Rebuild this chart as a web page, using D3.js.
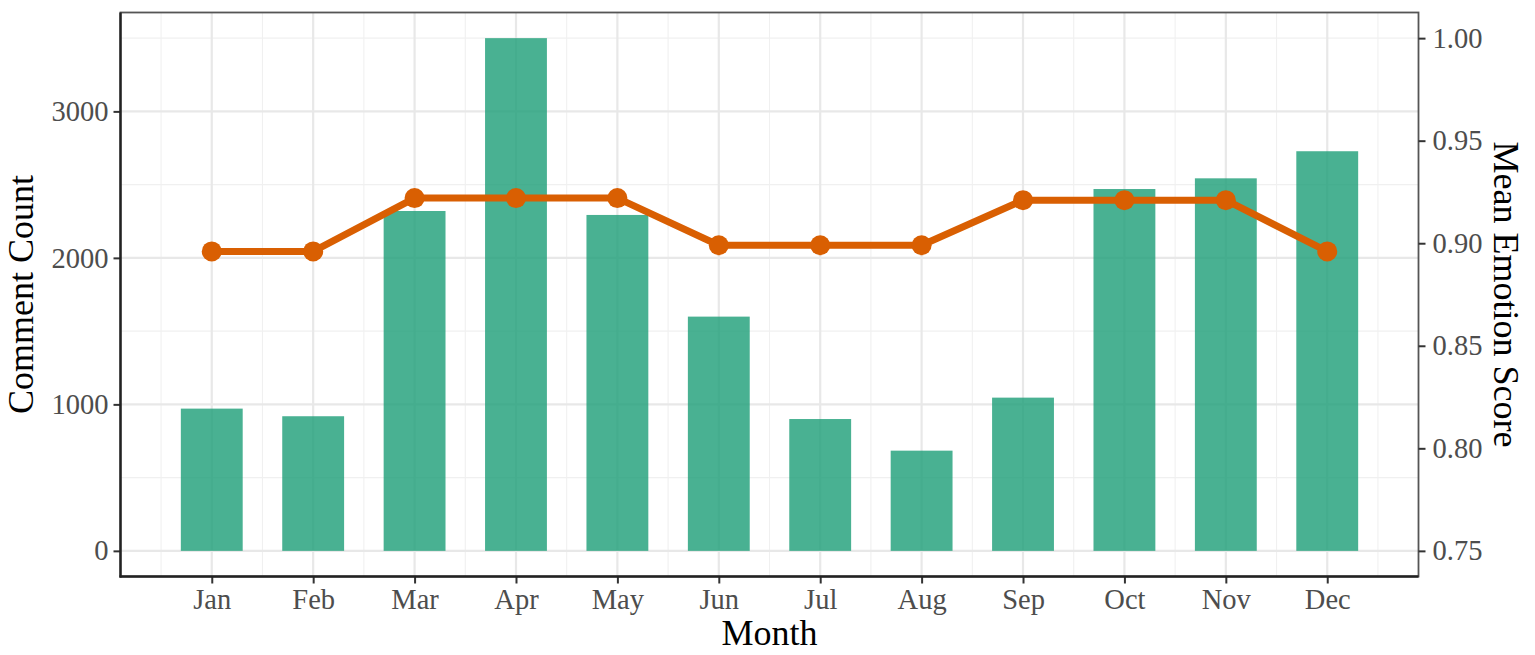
<!DOCTYPE html>
<html>
<head>
<meta charset="utf-8">
<script src="https://cdn.jsdelivr.net/npm/d3@7"></script>
<style>
  html, body { margin: 0; padding: 0; background: #fff; }
  svg { display: block; }
</style>
</head>
<body>
<svg id="chart" width="1535" height="655"></svg>
<script>
const months = ["Jan","Feb","Mar","Apr","May","Jun","Jul","Aug","Sep","Oct","Nov","Dec"];
const commentCount = [971, 919, 2320, 3500, 2293, 1599, 900, 684, 1046, 2470, 2543, 2728];
const meanEmotion = [0.896, 0.896, 0.922, 0.922, 0.922, 0.899, 0.899, 0.899, 0.921, 0.921, 0.921, 0.896];
const countTicks = [0, 1000, 2000, 3000];
const countMinor = [500, 1500, 2500, 3500];
const emotionTicks = [0.75, 0.80, 0.85, 0.90, 0.95, 1.00];

const svg = d3.select("#chart");
const L = 120.5, R = 1418.5, T = 12.5, B = 576.5;
const FONT = "'Liberation Serif', 'Times New Roman', serif";

// secondary axis transform: emotion = 0.75 + count / 14000
const toEmotion = c => 0.75 + c / 14000;

const x = d3.scaleLinear().domain([0.1, 12.9]).range([L, R]);
const y = d3.scaleLinear().domain([-175, 3675]).range([B, T]);
const y2 = d3.scaleLinear().domain([toEmotion(-175), toEmotion(3675)]).range([B, T]);

const idx = months.map((m, i) => i + 1);
const minorX = d3.range(0, 13).map(i => i + 0.5);

// grid
const grid = svg.append("g");
grid.selectAll(".mx").data(minorX).join("line")
  .attr("x1", d => x(d)).attr("x2", d => x(d)).attr("y1", T).attr("y2", B)
  .attr("stroke", "#f0f0f0").attr("stroke-width", 1.1);
grid.selectAll(".my").data(countMinor).join("line")
  .attr("x1", L).attr("x2", R).attr("y1", d => y(d)).attr("y2", d => y(d))
  .attr("stroke", "#f0f0f0").attr("stroke-width", 1.1);
grid.selectAll(".Mx").data(idx).join("line")
  .attr("x1", d => x(d)).attr("x2", d => x(d)).attr("y1", T).attr("y2", B)
  .attr("stroke", "#e8e8e8").attr("stroke-width", 2.2);
grid.selectAll(".My").data(countTicks).join("line")
  .attr("x1", L).attr("x2", R).attr("y1", d => y(d)).attr("y2", d => y(d))
  .attr("stroke", "#e8e8e8").attr("stroke-width", 2.2);

// bars
const bw = (x(1.61) - x(1));
svg.append("g").selectAll("rect").data(commentCount).join("rect")
  .attr("x", (d, i) => x(i + 1) - bw / 2)
  .attr("width", bw)
  .attr("y", d => y(d))
  .attr("height", d => y(0) - y(d))
  .attr("fill", "#1b9e77")
  .attr("fill-opacity", 0.8);

// line
const line = d3.line().x((d, i) => x(i + 1)).y(d => y2(d));
svg.append("path").datum(meanEmotion)
  .attr("d", line)
  .attr("fill", "none")
  .attr("stroke", "#d95f02")
  .attr("stroke-width", 7)
  .attr("stroke-linejoin", "round");
svg.append("g").selectAll("circle").data(meanEmotion).join("circle")
  .attr("cx", (d, i) => x(i + 1))
  .attr("cy", d => y2(d))
  .attr("r", 10)
  .attr("fill", "#d95f02");

// panel border
svg.append("rect").attr("x", L).attr("y", T).attr("width", R - L).attr("height", B - T)
  .attr("fill", "none").attr("stroke", "#555").attr("stroke-width", 1.8);

// axes
function styleAxis(g, size) {
  g.select(".domain").remove();
  g.selectAll(".tick line").attr("stroke", "#333").attr("stroke-width", 2);
  g.selectAll(".tick text").attr("fill", "#4d4d4d").style("font-family", FONT).style("font-size", size + "px");
}

const gl = svg.append("g").attr("transform", `translate(${L},0)`)
  .call(d3.axisLeft(y).tickValues(countTicks).tickSize(7).tickPadding(5).tickFormat(d3.format("d")));
styleAxis(gl, 28.5);

const gb = svg.append("g").attr("transform", `translate(0,${B})`)
  .call(d3.axisBottom(x).tickValues(idx).tickSize(7).tickPadding(5).tickFormat(d => months[d - 1]));
styleAxis(gb, 28.5);

const gr = svg.append("g").attr("transform", `translate(${R},0)`)
  .call(d3.axisRight(y2).tickValues(emotionTicks).tickSize(7).tickPadding(7).tickFormat(d3.format(".2f")));
styleAxis(gr, 28.5);

// axis lines (left & bottom, darker)
svg.append("line").attr("x1", L).attr("x2", L).attr("y1", T).attr("y2", B + 1)
  .attr("stroke", "#222").attr("stroke-width", 2.4);
svg.append("line").attr("x1", L - 1).attr("x2", R).attr("y1", B).attr("y2", B)
  .attr("stroke", "#222").attr("stroke-width", 2.4);

// titles
svg.append("text").attr("x", (L + R) / 2).attr("y", 645)
  .attr("text-anchor", "middle").style("font-family", FONT).style("font-size", "36px")
  .attr("fill", "#000").text("Month");
svg.append("text").attr("transform", `translate(33,${(T + B) / 2}) rotate(-90)`)
  .attr("text-anchor", "middle").style("font-family", FONT).style("font-size", "36px")
  .attr("fill", "#000").text("Comment Count");
svg.append("text").attr("transform", `translate(1494,${(T + B) / 2}) rotate(90)`)
  .attr("text-anchor", "middle").style("font-family", FONT).style("font-size", "36px")
  .attr("fill", "#000").text("Mean Emotion Score");
</script>
</body>
</html>
